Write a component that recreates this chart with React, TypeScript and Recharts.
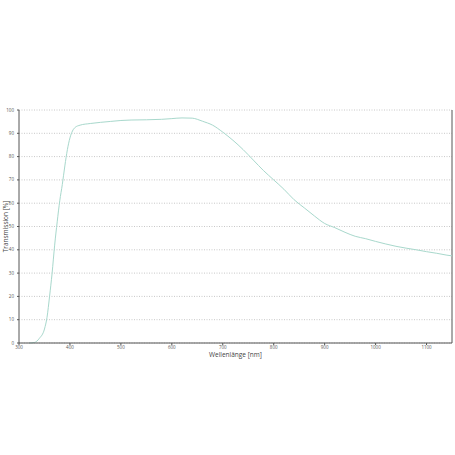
import { LineChart, Line, XAxis, YAxis, CartesianGrid, ReferenceLine } from "recharts";

const wavelengths = [
  320, 330, 340, 350, 355, 360, 365, 370, 375, 380, 385, 390, 395, 400, 405, 410, 420, 440, 460, 480, 500,
  520, 550, 580, 600, 620, 640, 650, 660, 680, 700, 720, 740, 760, 780, 800, 820, 840, 860, 880, 900,
  920, 940, 960, 980, 1000, 1020, 1040, 1060, 1080, 1100, 1120, 1140, 1150,
];
const transmission = [
  0, 0.2, 2, 6, 11, 20, 30, 42, 52, 61, 68, 76, 83, 88, 91, 92.5, 93.5, 94.2, 94.7, 95.1, 95.5,
  95.7, 95.8, 96, 96.3, 96.6, 96.5, 96, 95.2, 93.5, 90.5, 87, 83, 78.5, 74, 70, 66, 61.5, 58, 54.5, 51.3,
  49.5, 47.5, 45.8, 44.8, 43.6, 42.5, 41.5, 40.7, 40, 39.2, 38.5, 37.7, 37.4,
];
const xTicks = [300, 400, 500, 600, 700, 800, 900, 1000, 1100];
const yTicks = [0, 10, 20, 30, 40, 50, 60, 70, 80, 90, 100];

const data = wavelengths.map((w, i) => ({ w, t: transmission[i] }));

const axisColor = "#555";
const tickStyle = { fontSize: 4.5, fill: "#555", fontFamily: "Open Sans" };

// rotated y-axis title, placed from the axis viewBox
const YTitle = (props: any) => {
  const vb = props.viewBox || {};
  const cx = (vb.x ?? 0) + 7.5;
  const cy = (vb.y ?? 0) + (vb.height ?? 0) / 2;
  return (
    <text
      x={cx}
      y={cy}
      transform={`rotate(-90 ${cx} ${cy})`}
      textAnchor="middle"
      fontSize={6.5}
      fill="#444"
      fontFamily="Open Sans"
    >
      Transmission [%]
    </text>
  );
};

export default function App() {
  return (
    <div style={{ position: "absolute", left: 0, top: 0, width: 455, height: 455, background: "#fff" }}>
      <LineChart width={455} height={455} data={data} margin={{ top: 110, right: 3, bottom: 92, left: 0 }}>
        <CartesianGrid vertical={false} stroke="#c8c8c8" strokeDasharray="1 1.5" />
        <XAxis
          dataKey="w"
          type="number"
          domain={[300, 1150]}
          ticks={xTicks}
          height={20}
          stroke={axisColor}
          tick={tickStyle}
          tickSize={2}
          tickMargin={1}
          label={{ value: "Wellenlänge [nm]", position: "insideBottom", offset: 6, style: { fontSize: 6.5, fill: "#444", fontFamily: "Open Sans" } }}
        />
        <YAxis
          type="number"
          domain={[0, 100]}
          ticks={yTicks}
          width={19}
          stroke={axisColor}
          tick={tickStyle}
          tickSize={2}
          tickMargin={3}
          label={<YTitle />}
        />
        <ReferenceLine x={1150} stroke={axisColor} />
        <Line type="monotone" dataKey="t" stroke="#a8d8cc" strokeWidth={1} dot={false} isAnimationActive={false} />
      </LineChart>
    </div>
  );
}
